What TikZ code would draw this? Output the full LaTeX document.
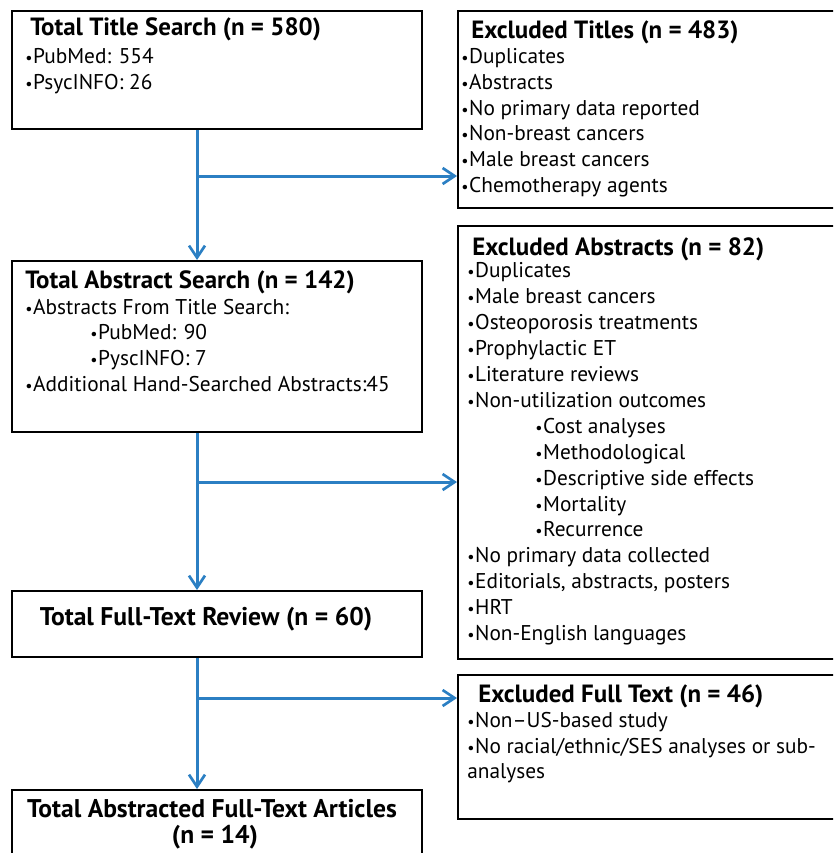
\documentclass[tikz,border=0pt]{standalone}
\usepackage{fontspec}
\setmainfont{PT Sans}
\usetikzlibrary{arrows.meta}
\definecolor{arrblue}{HTML}{2B7FC3}
\newcommand{\bul}{{\fontsize{12}{12}\selectfont\textbullet}\hspace{0.5pt}}
\begin{document}
\begin{tikzpicture}[x=0.75pt,y=-0.75pt,
  box/.style={draw=black,line width=1.5pt,anchor=north west,inner sep=0pt},
  txt/.style={anchor=base west,inner sep=0pt,font=\fontsize{16}{19}\selectfont},
  ttl/.style={anchor=base west,inner sep=0pt,font=\fontsize{18.7}{22}\selectfont\bfseries},
  ttlb/.style={anchor=base,inner sep=0pt,font=\fontsize{19.2}{22}\selectfont\bfseries},
  arr/.style={draw=arrblue,line width=2.25pt,-{Straight Barb[length=9pt,width=12pt,line width=2pt]}}]
\clip (0,0) rectangle (833,853);
% boxes
\node[box,minimum width=307.5pt,minimum height=88.5pt] (b1) at (11,10) {};
\node[box,minimum width=307.5pt,minimum height=128.25pt] (b2) at (11,260) {};
\node[box,minimum width=307.5pt,minimum height=49.5pt] (b3) at (11,590) {};
\node[box,minimum width=307.5pt,minimum height=60.75pt] (b4) at (11,789) {};
\node[box,minimum width=287.25pt,minimum height=147.75pt] (e1) at (457,10) {};
\node[box,minimum width=287.25pt,minimum height=324.75pt] (e2) at (457,225) {};
\node[box,minimum width=287.25pt,minimum height=108pt] (e3) at (457,674) {};
% box 1
\node[ttl] (t1) at (30,36) {Total Title Search (n = 580)};
\node[txt] (t1a) at (25,63) {\bul PubMed: 554};
\node[txt] (t1b) at (25,89) {\bul PsycINFO: 26};
% box 2
\node[ttl] (t2) at (25,288) {Total Abstract Search (n = 142)};
\node[txt] (t2a) at (25,314) {\bul Abstracts From Title Search:};
\node[txt] (t2b) at (90,339) {\bul PubMed: 90};
\node[txt] (t2c) at (90,365) {\bul PyscINFO: 7};
\node[txt] (t2d) at (25,391) {\bul Additional Hand-Searched Abstracts:45};
% box 3
\node[ttlb] (t3) at (206,625) {Total Full-Text Review (n = 60)};
% box 4
\node[ttlb] (t4) at (212,817) {Total Abstracted Full-Text Articles};
\node[ttlb] (t4b) at (215,843) {(n = 14)};
% excluded titles
\node[ttl] (u1) at (471,38) {Excluded Titles (n = 483)};
\node[txt] (u1a) at (461,63) {\bul Duplicates};
\node[txt] (u1b) at (461,89) {\bul Abstracts};
\node[txt] (u1c) at (461,115) {\bul No primary data reported};
\node[txt] (u1d) at (461,140) {\bul Non-breast cancers};
\node[txt] (u1e) at (461,166) {\bul Male breast cancers};
\node[txt] (u1f) at (461,192) {\bul Chemotherapy agents};
% excluded abstracts
\node[ttl] (u2) at (472,255) {Excluded Abstracts (n = 82)};
\node[txt] (u2a) at (467,277) {\bul Duplicates};
\node[txt] (u2b) at (467,303) {\bul Male breast cancers};
\node[txt] (u2c) at (467,329) {\bul Osteoporosis treatments};
\node[txt] (u2d) at (467,355) {\bul Prophylactic ET};
\node[txt] (u2e) at (467,381) {\bul Literature reviews};
\node[txt] (u2f) at (467,407) {\bul Non-utilization outcomes};
\node[txt] (u2g) at (535,433) {\bul Cost analyses};
\node[txt] (u2h) at (535,459) {\bul Methodological};
\node[txt] (u2i) at (535,485) {\bul Descriptive side effects};
\node[txt] (u2j) at (535,511) {\bul Mortality};
\node[txt] (u2k) at (535,536) {\bul Recurrence};
\node[txt] (u2l) at (467,562) {\bul No primary data collected};
\node[txt] (u2m) at (467,588) {\bul Editorials, abstracts, posters};
\node[txt] (u2n) at (467,614) {\bul HRT};
\node[txt] (u2o) at (467,640) {\bul Non-English languages};
% excluded full text
\node[ttl] (u3) at (478,702) {Excluded Full Text (n = 46)};
\node[txt] (u3a) at (467,727) {\bul Non–US-based study};
\node[txt] (u3b) at (467,753) {\bul No racial/ethnic/SES analyses or sub-};
\node[txt] (u3c) at (467,778) {analyses};
% connectors
\coordinate (j1) at (197,176);
\coordinate (j2) at (197,482);
\coordinate (j3) at (197,698);
\draw[arr] (b1.south -| j1) -- (b2.north -| j1);
\draw[arr] (j1) -- (j1 -| e1.west);
\draw[arr] (b2.south -| j2) -- (b3.north -| j2);
\draw[arr] (j2) -- (j2 -| e2.west);
\draw[arr] (b3.south -| j3) -- (b4.north -| j3);
\draw[arr] (j3) -- (j3 -| e3.west);
\end{tikzpicture}
\end{document}
